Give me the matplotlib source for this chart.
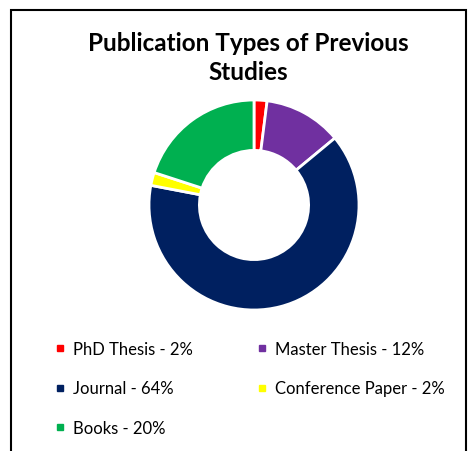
import matplotlib
matplotlib.use('Agg')

import matplotlib.pyplot as plt
from matplotlib.lines import Line2D
from matplotlib.patches import Rectangle

# data
labels = ['PhD Thesis', 'Master Thesis', 'Journal', 'Conference Paper', 'Books']
shares = [2, 12, 64, 2, 20]
colors = ['#FF0000', '#7030A0', '#002060', '#FFFF00', '#00B050']

plt.rcParams['font.family'] = ['Lato', 'DejaVu Sans']

W, H = 476, 452
fig = plt.figure(figsize=(W / 100, H / 100), dpi=100)
fig.patch.set_facecolor('white')

# frame of the chart area (runs off the bottom edge)
fig.add_artist(Rectangle((11 / W, -0.05), (466 - 11) / W, (H - 11) / H + 0.05,
                         transform=fig.transFigure, fill=False,
                         edgecolor='black', linewidth=1.5))

fig.text(248 / W, 1 - 58 / H, 'Publication Types of Previous\nStudies',
         ha='center', va='center', fontsize=17.5, fontweight='bold',
         linespacing=1.35)

# donut
cx, cy, r = 254, 206, 105
ax = fig.add_axes([(cx - r) / W, 1 - (cy + r) / H, 2 * r / W, 2 * r / H])
ax.pie(shares, colors=colors, startangle=90, counterclock=False,
       wedgeprops=dict(width=0.48, edgecolor='white', linewidth=2))
ax.set_xlim(-1, 1)
ax.set_ylim(-1, 1)
ax.axis('off')

# legend, row-major order like the original
handles = [Line2D([], [], marker='s', linestyle='none', markersize=5,
                  markerfacecolor=c, markeredgecolor=c) for c in colors]
texts = [f'{l} - {s}%' for l, s in zip(labels, shares)]
order = [0, 2, 4, 1, 3]
fig.legend([handles[i] for i in order], [texts[i] for i in order],
           ncol=2, loc='upper left', bbox_to_anchor=(40 / W, 1 - 327 / H),
           frameon=False, fontsize=12, handlelength=0.6, handletextpad=0.5,
           columnspacing=3.8, labelspacing=1.4)

fig.savefig('out.png', dpi=100)
